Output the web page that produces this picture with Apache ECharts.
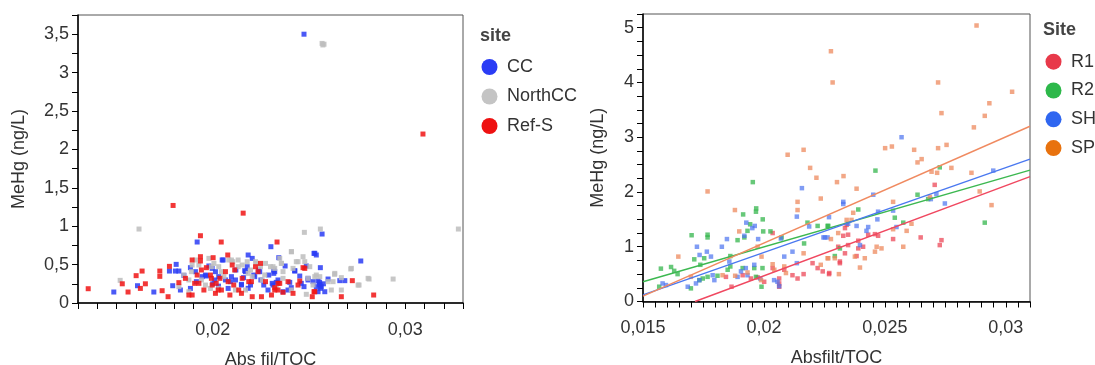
<!DOCTYPE html>
<html><head><meta charset="utf-8">
<script src="https://cdn.jsdelivr.net/npm/echarts@6/dist/echarts.min.js"></script>
<style>html,body{margin:0;padding:0;background:#fff}#c{width:1095px;height:365px}</style>
</head><body><div id="c"></div>
<script>
// ---- Left panel data: [Abs fil/TOC, MeHg ng/L]
var ccPoints = [[0.01919,0.794],[0.02302,0.733],[0.02184,0.625],[0.01486,0.143],[0.01609,0.225],[0.01694,0.143],[0.01810,0.503],[0.01775,0.416],[0.01806,0.416],[0.01824,0.416],[0.01792,0.225],[0.01832,0.169],[0.01884,0.19],[0.01884,0.46],[0.01945,0.343],[0.01962,0.364],[0.01980,0.482],[0.01997,0.451],[0.02014,0.408],[0.02031,0.343],[0.02049,0.56],[0.02092,0.278],[0.02118,0.3],[0.02149,0.243],[0.02170,0.408],[0.02179,0.473],[0.02205,0.581],[0.02213,0.364],[0.02239,0.429],[0.02265,0.234],[0.02291,0.364],[0.02309,0.256],[0.01910,0.408],[0.02196,0.234],[0.02066,0.3],
[0.02568,0.898],[0.02526,0.646],[0.02538,0.625],[0.02769,0.547],[0.02343,0.59],[0.02376,0.482],[0.02486,0.482],[0.02559,0.46],[0.02317,0.429],[0.02317,0.386],[0.02426,0.416],[0.02452,0.351],[0.02495,0.321],[0.02521,0.278],[0.02547,0.286],[0.02556,0.243],[0.02538,0.213],[0.02564,0.213],[0.02599,0.312],[0.02660,0.291],[0.02686,0.291],[0.02400,0.269],[0.02408,0.2],[0.02474,0.213],[0.02365,0.147],[0.02330,0.269],[0.02313,0.234],[0.02582,0.147],[0.02547,0.147],
[0.02000,0.25],[0.02080,0.19],[0.02120,0.43],[0.02250,0.30],[0.01850,0.36],[0.02030,0.22],[0.02160,0.33],[0.02575,0.25],[0.02555,0.27],
[0.01915,0.278],[0.01967,0.352],[0.0201,0.30],[0.02054,0.56],[0.02097,0.343],[0.02149,0.234],[0.02166,0.421],[0.02184,0.191],[0.02218,0.343],[0.02244,0.408],[0.02287,0.169],[0.02322,0.408],[0.02339,0.30],[0.02391,0.169],[0.02426,0.421],[0.0246,0.256],[0.02495,0.30],[0.0253,0.647],[0.02556,0.234],[0.0256,0.191],
[0.02474,3.50]];
var northPoints = [[0.01617,0.963],[0.01519,0.295],[0.01824,0.213],[0.01850,0.364],[0.01876,0.3],[0.01893,0.495],[0.01910,0.56],[0.01928,0.495],[0.01980,0.581],[0.02006,0.516],[0.02031,0.473],[0.02058,0.343],[0.02083,0.56],[0.02104,0.538],[0.02132,0.56],[0.02153,0.495],[0.02179,0.538],[0.02196,0.429],[0.02222,0.538],[0.02248,0.473],[0.02274,0.516],[0.02300,0.473],[0.01962,0.234],[0.02031,0.19],[0.02118,0.169],[0.02170,0.169],[0.02205,0.343],[0.02257,0.3],[0.01876,0.147],[0.01988,0.19],
[0.02559,0.963],[0.02476,0.92],[0.03276,0.963],[0.02408,0.668],[0.02469,0.603],[0.02478,0.538],[0.02434,0.538],[0.02348,0.581],[0.02356,0.516],[0.02313,0.473],[0.02365,0.408],[0.02417,0.451],[0.02504,0.473],[0.02538,0.364],[0.02556,0.343],[0.02633,0.373],[0.02668,0.33],[0.02717,0.443],[0.02812,0.312],[0.02937,0.312],[0.02760,0.234],[0.02625,0.278],[0.02616,0.169],[0.02486,0.113],[0.02521,0.234],[0.02365,0.321],[0.02330,0.19],[0.02408,0.169],
[0.01889,0.408],[0.01941,0.30],[0.01993,0.473],[0.02045,0.408],[0.02097,0.56],[0.02132,0.473],[0.02184,0.386],[0.02227,0.516],[0.02270,0.365],[0.02322,0.451],[0.02357,0.516],[0.02409,0.668],[0.02443,0.538],[0.02495,0.321],[0.0253,0.343],[0.02599,0.278],[0.02634,0.386],[0.02668,0.169],[0.0272,0.451],[0.02755,0.234],[0.02807,0.321],
[0.02568,3.38],[0.02578,3.37],[0.02572,3.36]];
var refPoints = [[0.01794,1.27],[0.02158,1.17],[0.01936,0.876],[0.02044,0.794],[0.01353,0.186],[0.0153,0.25],[0.0156,0.143],[0.01602,0.356],[0.01633,0.416],[0.0165,0.25],[0.01624,0.19],[0.01725,0.416],[0.01725,0.347],[0.01737,0.16],[0.01768,0.082],[0.01775,0.477],[0.01824,0.265],[0.01858,0.321],[0.01893,0.56],[0.01936,0.603],[0.01936,0.547],[0.01919,0.364],[0.01876,0.104],[0.01893,0.104],[0.01928,0.256],[0.01967,0.46],[0.02002,0.59],[0.01997,0.234],[0.02014,0.126],[0.02037,0.321],[0.02066,0.408],[0.02078,0.625],[0.02101,0.495],[0.02109,0.234],[0.02089,0.104],[0.02135,0.169],[0.02153,0.321],[0.02187,0.278],[0.02205,0.082],[0.02222,0.473],[0.02248,0.516],[0.02253,0.082],[0.02274,0.278],[0.02305,0.104],[0.01988,0.364],[0.02018,0.256],[0.02045,0.169],[0.01954,0.169],
[0.02334,0.794],[0.02469,0.46],[0.02452,0.286],[0.02725,0.291],[0.02668,0.082],[0.02836,0.104],[0.02517,0.082],[0.02526,0.147],[0.02417,0.126],[0.02348,0.256],[0.02339,0.169],[0.02322,0.2],[0.02443,0.234],[0.02365,0.139],
[0.01906,0.256],[0.01941,0.43],[0.01993,0.321],[0.02028,0.169],[0.0208,0.278],[0.02114,0.43],[0.02149,0.126],[0.02201,0.278],[0.02235,0.408],[0.02322,0.169],[0.02339,0.256],[0.02391,0.278],[0.02478,0.451],[0.0253,0.147],
[0.03092,2.2]];

// ---- Right panel data: [Absfilt/TOC, MeHg ng/L]
var r1Points = [[0.01843,0.45],[0.01866,0.27],[0.01912,0.48],[0.01946,0.42],[0.01974,0.44],[0.02001,0.36],[0.02036,0.61],[0.02063,0.42],[0.02063,0.33],[0.02063,0.27],[0.02084,0.58],[0.02118,0.48],[0.02139,0.42],[0.02164,0.50],[0.02201,0.70],[0.02222,0.61],[0.02243,0.55],[0.02270,0.52],[0.02036,1.25],
[0.02706,2.13],[0.02734,1.12],[0.02727,1.03],[0.02648,1.17],[0.02534,1.14],[0.02459,1.23],[0.02472,1.20],[0.02431,1.22],[0.02390,1.11],[0.02348,1.22],[0.02335,1.34],[0.02342,1.40],[0.02328,1.20],[0.02348,1.03],[0.02307,1.00],[0.02390,0.97],[0.02410,1.00],[0.02335,0.88],[0.02314,0.73],[0.02314,0.70],[0.02383,0.83],[0.02269,0.50]];
var r2Points = [[0.01954,2.18],[0.01968,1.70],[0.01995,1.50],[0.01967,1.64],[0.01914,1.59],[0.01943,1.41],[0.01932,1.29],[0.01919,1.17],[0.01891,1.12],[0.01701,1.21],[0.01767,1.22],[0.01767,1.17],[0.01712,0.77],[0.01753,0.79],[0.01737,0.67],[0.01574,0.60],[0.01616,0.63],[0.01629,0.56],[0.01643,0.50],[0.01567,0.27],[0.01698,0.24],[0.01733,0.39],[0.01747,0.42],[0.01767,0.45],[0.01808,0.47],[0.01861,0.83],[0.01850,0.58],[0.01861,0.64],[0.01912,0.61],[0.01960,0.61],[0.01967,0.45],[0.01994,0.61],[0.01990,0.27],[0.01997,1.28],[0.02027,1.28],[0.02073,1.17],[0.02166,1.06],[0.02180,1.44],[0.02222,1.38],[0.02263,1.38],
[0.02461,2.39],[0.02727,2.45],[0.02913,1.44],[0.02635,1.95],[0.02390,1.68],[0.02541,1.53],[0.02679,1.87],[0.02266,1.38],[0.02293,0.83],[0.02576,1.44],[0.02314,0.97]];
var shPoints = [[0.02157,2.07],[0.02136,1.55],[0.01962,1.38],[0.01952,1.34],[0.01927,1.44],[0.01919,1.20],[0.01976,1.14],[0.01847,1.14],[0.01826,1.00],[0.01723,1.00],[0.01734,0.85],[0.01764,0.91],[0.01781,0.82],[0.01857,0.73],[0.01960,0.67],[0.01925,0.61],[0.01905,0.55],[0.01891,0.45],[0.01932,0.48],[0.01788,0.48],[0.01795,0.39],[0.01733,0.39],[0.01719,0.33],[0.01685,0.27],[0.01581,0.33],[0.01595,0.30],[0.02056,0.36],[0.02063,0.28],[0.02084,0.82],[0.02118,0.91],[0.02136,0.70],[0.02246,1.17],[0.02263,1.17],[0.02187,1.37],[0.02070,1.15],[0.02042,0.39],[0.01985,0.42],
[0.02948,2.39],[0.02452,1.95],[0.02328,1.82],[0.02328,1.78],[0.02472,1.64],[0.02469,1.50],[0.02534,1.66],[0.02548,1.36],[0.02713,1.96],[0.02690,1.87],[0.02269,1.54],[0.02383,1.38],[0.02348,1.42],[0.02431,1.36],[0.02424,1.29],[0.02252,1.17],[0.02397,1.03],[0.02748,1.79],[0.02569,3.0]];
var spPoints = [[0.02879,5.04],[0.02277,4.57],[0.02284,4.0],[0.02720,4.0],[0.03026,3.83],[0.02932,3.62],[0.02734,3.44],[0.02913,3.39],[0.02868,3.18],[0.02501,2.80],[0.02529,2.83],[0.02621,2.77],[0.02720,2.80],[0.02755,2.86],
[0.02098,2.68],[0.02164,2.77],[0.02191,2.44],[0.02217,2.26],[0.02235,1.88],[0.01767,2.01],[0.02139,1.82],[0.02139,1.67],[0.01880,1.67],[0.01898,1.28],[0.01646,0.82],[0.01974,1.0],[0.01990,0.82],[0.02164,0.88],[0.02263,0.79],[0.02036,0.68],[0.02084,0.64],[0.01698,0.45],[0.01881,0.47],[0.01932,0.53],[0.01988,0.39],[0.01829,0.48],[0.02043,0.58],[0.02091,0.52],[0.02235,0.67],
[0.02635,2.54],[0.02652,2.60],[0.02693,2.37],[0.02716,2.35],[0.02775,2.44],[0.02858,2.35],[0.02892,2.01],[0.02941,1.76],[0.02329,2.29],[0.02302,2.18],[0.02383,2.06],[0.02369,1.62],[0.02534,1.82],[0.02342,1.49],[0.02362,1.49],[0.02277,1.14],[0.02307,1.25],[0.02534,1.32],[0.02590,1.29],[0.02610,1.42],[0.02686,1.91],[0.02466,1.00],[0.02486,0.97],[0.02417,0.79],[0.02376,0.82],[0.02266,0.79],[0.02293,0.79],[0.02397,0.62],[0.02310,0.50],[0.02576,1.00],[0.02459,0.91]];

// fitted lines (endpoints in data units)
var r1Fit = [[0.01715,0],[0.031,2.28]];
var r2Fit = [[0.015,0.36],[0.031,2.40]];
var shFit = [[0.015,0.12],[0.031,2.60]];
var spFit = [[0.015,0.10],[0.031,3.20]];

var leftSites = ['CC','NorthCC','Ref-S'];
var rightSites = ['R1','R2','SH','SP'];

var FONT = "'Liberation Sans', Arial, sans-serif";
var TXT = '#333';
function comma(v, d){ return String(+v.toFixed(d)).replace('.', ','); }

var chart = echarts.init(document.getElementById('c'), null, {renderer:'canvas'});

function xAxisCfg(grid, min, max, step, isLabel, name){
  return {type:'value', gridIndex:grid, min:min, max:max, interval:step, name:name,
    nameLocation:'middle', nameGap:48,
    nameTextStyle:{fontFamily:FONT, fontSize:18, color:TXT},
    axisLine:{show:true, onZero:false, lineStyle:{color:'#000', width:1.5}},
    axisTick:{show:true, length:6, lineStyle:{color:'#000', width:1}},
    splitLine:{show:false},
    axisLabel:{margin:18, fontFamily:FONT, fontSize:18, color:TXT,
      showMinLabel:true, showMaxLabel:true,
      formatter:function(v){ return isLabel(v) ? comma(v,3) : ''; }}};
}
function yAxisCfg(grid, max, step, isLabel, name, gap){
  return {type:'value', gridIndex:grid, min:0, max:max, interval:step, name:name,
    nameLocation:'middle', nameGap:gap,
    nameTextStyle:{fontFamily:FONT, fontSize:18, color:TXT},
    axisLine:{show:true, onZero:false, lineStyle:{color:'#000', width:1.5}},
    axisTick:{show:true, length:6, lineStyle:{color:'#000', width:1}},
    splitLine:{show:false},
    axisLabel:{margin:9, fontFamily:FONT, fontSize:18, color:TXT,
      formatter:function(v){ return isLabel(v) ? comma(v,2) : ''; }}};
}
function near(v, m){ var q = v/m; return Math.abs(q - Math.round(q)) < 1e-6; }

function scatter(name, data, xi, color, op, size){
  return {type:'scatter', name:name, xAxisIndex:xi, yAxisIndex:xi, data:data,
    symbol:'rect', symbolSize:size, itemStyle:{color:color, opacity:op}, z:2};
}
function fit(name, data, color){
  return {type:'line', name:name, xAxisIndex:1, yAxisIndex:1, data:data,
    symbol:'none', silent:true, z:5, lineStyle:{color:color, width:1.4}};
}

var option = {
  animation:false,
  backgroundColor:'#fff',
  grid:[
    {left:78, top:15, width:385, height:288, show:true, borderColor:'#555', borderWidth:1, outerBoundsMode:'none', containLabel:false},
    {left:643, top:14, width:387, height:287.5, show:true, borderColor:'#555', borderWidth:1, outerBoundsMode:'none', containLabel:false}
  ],
  title:[
    {text:'site', left:480, top:27, padding:0, textStyle:{fontFamily:FONT, fontSize:18, fontWeight:'bold', color:'#444'}},
    {text:'Site', left:1043, top:21, padding:0, textStyle:{fontFamily:FONT, fontSize:18, fontWeight:'bold', color:'#444'}}
  ],
  legend:[
    {orient:'vertical', left:481.5, top:58, padding:0, itemWidth:25, itemHeight:16, itemGap:11.5,
      icon:'circle', textStyle:{fontFamily:FONT, fontSize:18, color:TXT, lineHeight:16},
      data:[{name:'CC', itemStyle:{color:'#2a3cf5', opacity:1}},
            {name:'NorthCC', itemStyle:{color:'#c4c4c4', opacity:1}},
            {name:'Ref-S', itemStyle:{color:'#ee1111', opacity:1}}]},
    {orient:'vertical', left:1045.5, top:52.7, padding:0, itemWidth:25, itemHeight:16, itemGap:10.8,
      icon:'circle', textStyle:{fontFamily:FONT, fontSize:18, color:TXT, lineHeight:16},
      data:[{name:'R1', itemStyle:{color:'#e8394a', opacity:1}},
            {name:'R2', itemStyle:{color:'#2db84a', opacity:1}},
            {name:'SH', itemStyle:{color:'#2f66f0', opacity:1}},
            {name:'SP', itemStyle:{color:'#e8720e', opacity:1}}]}
  ],
  xAxis:[
    xAxisCfg(0, 0.013, 0.033, 0.001, function(v){ return near(v,0.01); }, 'Abs fil/TOC'),
    xAxisCfg(1, 0.015, 0.031, 0.0005, function(v){ return near(v,0.005); }, 'Absfilt/TOC')
  ],
  yAxis:[
    yAxisCfg(0, 3.75, 0.25, function(v){ return near(v,0.5); }, 'MeHg (ng/L)', 50),
    yAxisCfg(1, 5.25, 0.25, function(v){ return near(v,1); }, 'MeHg (ng/L)', 36)
  ],
  series:[
    scatter(leftSites[0], ccPoints, 0, '#2a3cf5', 0.85, 5),
    scatter(leftSites[1], northPoints, 0, '#bdbdbd', 0.85, 5),
    scatter(leftSites[2], refPoints, 0, '#f01414', 0.85, 5),
    scatter(rightSites[0], r1Points, 1, '#ec4858', 0.75, 4.5),
    scatter(rightSites[1], r2Points, 1, '#34b54c', 0.75, 4.5),
    scatter(rightSites[2], shPoints, 1, '#4a72f0', 0.7, 4.5),
    scatter(rightSites[3], spPoints, 1, '#ee8a5e', 0.75, 4.5),
    fit('R1 fit', r1Fit, '#f04860'),
    fit('R2 fit', r2Fit, '#3cb850'),
    fit('SH fit', shFit, '#4a78f0'),
    fit('SP fit', spFit, '#f08a60')
  ]
};
chart.setOption(option);
</script></body></html>
